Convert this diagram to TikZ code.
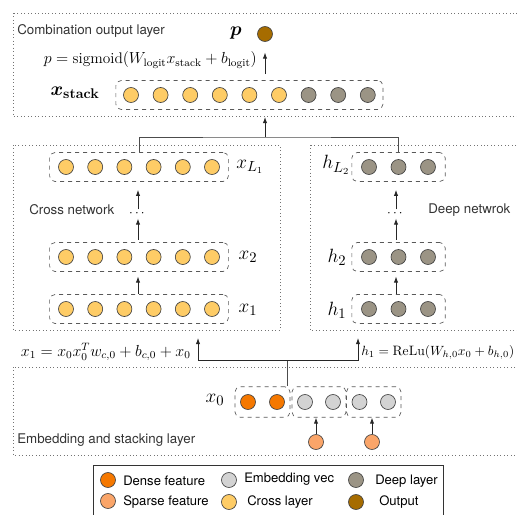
\documentclass[tikz,border=0pt]{standalone}
\usepackage{amsmath}
\usepackage{bm}
\usepackage{fontspec}
\setsansfont{TeX Gyre Heros}
\usetikzlibrary{arrows.meta,fit,calc}
\definecolor{crossc}{RGB}{254,204,102}
\definecolor{deepc}{RGB}{155,148,133}
\definecolor{outc}{RGB}{166,108,0}
\definecolor{densec}{RGB}{245,120,0}
\definecolor{sparsec}{RGB}{250,165,105}
\definecolor{embc}{RGB}{211,211,211}
\begin{document}
\begin{tikzpicture}[x=0.75pt,y=-0.75pt,
  layer/.style={draw=black!55, dotted, line width=0.6pt},
  dbox/.style={draw=black!65, dashed, rounded corners=4pt, line width=0.5pt, inner xsep=5.5pt, inner ysep=5pt},
  cell/.style={circle, draw=black!75, line width=0.5pt, minimum size=11.25pt, inner sep=0pt},
  crossn/.style={cell, fill=crossc},
  deepn/.style={cell, fill=deepc},
  outn/.style={cell, fill=outc},
  densen/.style={cell, fill=densec},
  sparsen/.style={cell, fill=sparsec},
  embn/.style={cell, fill=embc},
  arr/.style={-{Latex[length=4.5pt,width=3.2pt]}, line width=0.6pt, draw=black!85},
  conn/.style={line width=0.6pt, draw=black!70},
  lbl/.style={font=\sffamily\fontsize{10}{12}\selectfont, text=black!80, inner sep=0pt},
  leg/.style={font=\sffamily\fontsize{9.8}{11}\selectfont, text=black, inner sep=0pt},
  mlbl/.style={font=\fontsize{15}{17}\selectfont, inner sep=0pt},
  eqn/.style={font=\fontsize{11.5}{13}\selectfont, inner sep=0pt}
]
\useasboundingbox (0,0) rectangle (517,514);
\begin{scope}
\clip (0,0) rectangle (517,514);
% layer frames
\draw[layer] (13,13) rectangle (540,116);
\draw[layer] (13,145) rectangle (280,330);
\draw[layer] (310,145) rectangle (540,330);
\draw[layer] (13,367) rectangle (540,455);
% legend frame
\draw[draw=black!80, line width=0.6pt] (93,465) rectangle (443,540);
\end{scope}

% layer titles
\node[lbl, anchor=west] (tcomb) at (17,31) {Combination output layer};
\node[lbl, anchor=west] (tcross) at (29,210) {Cross network};
\node[lbl, anchor=west] (tdeep) at (428,210) {Deep netwrok};
\node[lbl, anchor=west] (temb) at (17,440) {Embedding and stacking layer};

% output
\node[outn] (pout) at (265,34) {};
\node[mlbl] (plbl) at (236,33) {$\bm{p}$};
\node[eqn, anchor=east] (peq) at (257,60) {$p=\mathrm{sigmoid}(W_{\mathrm{logit}}x_{\mathrm{stack}}+b_{\mathrm{logit}})$};

% stack
\foreach \i in {1,...,6} \node[crossn] (s\i) at ({131+(\i-1)*29.6},95) {};
\foreach \i in {7,8,9} \node[deepn] (s\i) at ({131+(\i-1)*29.6},95) {};
\node[dbox, fit=(s1)(s9)] (xs) {};
\node[mlbl] (xslbl) at (75,93) {$\bm{x}_{\textbf{stack}}$};

% cross network
\foreach \r/\y in {1/309,2/257,L/167}
  \foreach \i in {1,...,6} \node[crossn] (c\r\i) at ({66+(\i-1)*29.2},\y) {};
\node[dbox, inner xsep=6.4pt, fit=(c11)(c16)] (x1b) {};
\node[dbox, inner xsep=6.4pt, fit=(c21)(c26)] (x2b) {};
\node[dbox, inner xsep=6.4pt, fit=(cL1)(cL6)] (xLb) {};
\node[mlbl] (x1l) at (248,310) {$x_1$};
\node[mlbl] (x2l) at (248,257) {$x_2$};
\node[mlbl] (xLl) at (250,167) {$x_{L_1}$};
\node[inner sep=1pt] (d1) at (138,214) {$\cdots$};

% deep network
\foreach \r/\y in {1/309,2/257,L/167}
  \foreach \i in {1,2,3} \node[deepn] (h\r\i) at ({369+(\i-1)*29.5},\y) {};
\node[dbox, inner xsep=7pt, fit=(h11)(h13)] (h1b) {};
\node[dbox, inner xsep=7pt, fit=(h21)(h23)] (h2b) {};
\node[dbox, inner xsep=7pt, fit=(hL1)(hL3)] (hLb) {};
\node[mlbl] (h1l) at (337,310) {$h_1$};
\node[mlbl] (h2l) at (337,257) {$h_2$};
\node[mlbl] (hLl) at (336,165) {$h_{L_2}$};
\node[inner sep=1pt] (d2) at (396,214) {$\cdots$};

% arrows inside networks
\draw[arr, shorten >=3.5pt] (x1b.north -| d1) -- (x2b.south -| d1);
\draw[arr, shorten <=2pt] (x2b.north -| d1) -- (d1);
\draw[arr, shorten >=6pt] (d1) -- (xLb.south -| d1);
\draw[arr, shorten >=3.5pt] (h1b.north -| d2) -- (h2b.south -| d2);
\draw[arr, shorten <=2pt] (h2b.north -| d2) -- (d2);
\draw[arr, shorten >=6pt] (d2) -- (hLb.south -| d2);

% combination tree
\coordinate (j) at (265,137);
\coordinate (t) at (265,117);
\draw[conn] (xLb.north) |- (j) -| (hLb.north);
\draw[arr] (j) -- (t);
\draw[arr, shorten <=4.5pt, shorten >=8pt] (pout |- xs.north) -- (pout);

% embedding
\node[densen] (e11) at (248,402) {};
\node[densen] (e12) at (277,402) {};
\node[embn] (e21) at (305,402) {};
\node[embn] (e22) at (333,402) {};
\node[embn] (e31) at (359.5,402) {};
\node[embn] (e32) at (388,402) {};
\node[dbox, inner xsep=3.9pt, inner ysep=5.6pt, fit=(e11)(e12)] (e1) {};
\node[dbox, inner xsep=3.9pt, inner ysep=5.6pt, fit=(e21)(e22)] (e2) {};
\node[dbox, inner xsep=3.9pt, inner ysep=5.6pt, fit=(e31)(e32)] (e3) {};
\node[mlbl] (x0l) at (215,400) {$x_0$};
\node[sparsen] (sp1) at (316,442) {};
\node[sparsen] (sp2) at (372,442) {};
\draw[arr] (sp1) -- (sp1 |- e2.south);
\draw[arr] (sp2) -- (sp2 |- e3.south);

% equations tree
\coordinate (k) at (287,360);
\coordinate (ax) at (198,338);
\coordinate (ah) at (358,338);
\draw[conn] (k) -- (k |- e1.north);
\draw[arr] (k) -| (ax);
\draw[arr] (k) -| (ah);
\node[eqn, anchor=east] (eqx) at (191,352) {$x_1=x_0x_0^Tw_{c,0}+b_{c,0}+x_0$};
\node[eqn, anchor=west, font=\fontsize{10.2}{12}\selectfont] (eqh) at (361,352) {$h_1=\mathrm{ReLu}(W_{h,0}x_0+b_{h,0})$};

% legend
\node[densen] (l1) at (108,480) {};
\node[leg, anchor=west] (l1t) at (123,481) {Dense feature};
\node[sparsen] (l2) at (108,501) {};
\node[leg, anchor=west] (l2t) at (123,502) {Sparse feature};
\node[embn] (l3) at (229,480) {};
\node[leg, anchor=west] (l3t) at (244,479) {Embedding vec};
\node[crossn] (l4) at (229,502) {};
\node[leg, anchor=west] (l4t) at (247,502) {Cross layer};
\node[deepn] (l5) at (356,480) {};
\node[leg, anchor=west] (l5t) at (375,481) {Deep layer};
\node[outn] (l6) at (356,502) {};
\node[leg, anchor=west] (l6t) at (379,502) {Output};
\end{tikzpicture}
\end{document}
